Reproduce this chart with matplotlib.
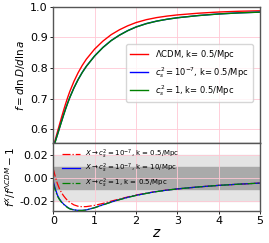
import matplotlib
matplotlib.use("Agg")
import matplotlib.pyplot as plt
from matplotlib.ticker import FormatStrFormatter

z = [0, 0.05, 0.1, 0.15, 0.2, 0.25, 0.3, 0.35, 0.4, 0.5, 0.6, 0.7, 0.8, 1.0,
     1.2, 1.4, 1.6, 1.8, 2.0, 2.25, 2.5, 2.75, 3.0, 3.5, 4.0, 4.5, 5.0]

# growth rate f = dlnD/dlna
f_lcdm = [0.542, 0.5665, 0.591, 0.6153, 0.639, 0.662, 0.684, 0.7045, 0.7235,
          0.7565, 0.7845, 0.8085, 0.829, 0.862, 0.888, 0.909, 0.925, 0.938,
          0.9485, 0.958, 0.9648, 0.9697, 0.9735, 0.979, 0.983, 0.9855, 0.987]
f_cs_small = [0.540, 0.561, 0.5825, 0.6043, 0.626, 0.6472, 0.6675, 0.6865, 0.7042,
              0.7355, 0.7624, 0.7857, 0.8059, 0.8397, 0.8673, 0.8899, 0.9075,
              0.9222, 0.9341, 0.9452, 0.9533, 0.9594, 0.9643, 0.9714, 0.9767,
              0.9803, 0.9827]
f_cs_one = [0.539, 0.5603, 0.5815, 0.6036, 0.6253, 0.6466, 0.667, 0.686, 0.7038,
            0.7352, 0.7621, 0.7854, 0.8056, 0.8394, 0.867, 0.8896, 0.9073,
            0.922, 0.9339, 0.945, 0.9532, 0.9593, 0.9642, 0.9713, 0.9766,
            0.9802, 0.9826]

# relative difference to LCDM
r_small_k05 = [0.008, 0.001, -0.005, -0.0095, -0.013, -0.0157, -0.018, -0.0199,
               -0.0215, -0.0237, -0.0249, -0.0253, -0.0252, -0.0241, -0.0224,
               -0.0204, -0.0185, -0.0167, -0.0150, -0.0133, -0.0118, -0.0106,
               -0.0096, -0.0079, -0.0065, -0.0054, -0.0045]
r_small_k10 = [-0.003, -0.0095, -0.015, -0.0185, -0.021, -0.023, -0.0245, -0.0259,
               -0.027, -0.0281, -0.0285, -0.0285, -0.0281, -0.0261, -0.0236,
               -0.0212, -0.0190, -0.0170, -0.0153, -0.0135, -0.0119, -0.0107,
               -0.0096, -0.0079, -0.0065, -0.0054, -0.0045]
r_one_k05 = [-0.005, -0.011, -0.016, -0.019, -0.0215, -0.0232, -0.0248, -0.0262,
             -0.0272, -0.0282, -0.0286, -0.0286, -0.0282, -0.0262, -0.0237,
             -0.0213, -0.0191, -0.0171, -0.0154, -0.0136, -0.012, -0.0107,
             -0.0096, -0.0079, -0.0065, -0.0054, -0.0045]

fig = plt.figure(figsize=(2.69, 2.43), dpi=100)
ax1 = fig.add_axes([0.198, 0.410, 0.769, 0.562])
ax2 = fig.add_axes([0.198, 0.132, 0.769, 0.278], sharex=ax1)

for ax in (ax1, ax2):
    ax.grid(True, color="#ffc8d4", linewidth=0.6)
    ax.set_axisbelow(True)
    for s in ax.spines.values():
        s.set_color("#555555")
        s.set_linewidth(1.0)
    ax.tick_params(labelsize=8, length=2.5, width=0.6, pad=1.5)

ax1.plot(z, f_lcdm, color="red", lw=1.0, label=r"$\Lambda$CDM, k= 0.5/Mpc")
ax1.plot(z, f_cs_small, color="blue", lw=1.0, label=r"$c_s^2=10^{-7}$, k= 0.5/Mpc")
ax1.plot(z, f_cs_one, color="green", lw=1.0, label=r"$c_s^2=1$, k= 0.5/Mpc")
ax1.set_xlim(0, 5)
ax1.set_ylim(0.554, 1.0)
ax1.set_yticks([0.6, 0.7, 0.8, 0.9, 1.0])
ax1.yaxis.set_major_formatter(FormatStrFormatter("%.1f"))
ax1.set_ylabel(r"$f=d\ln D/d\ln a$", fontsize=7.5, labelpad=2)
ax1.tick_params(labelbottom=False)
ax1.legend(loc="center right", fontsize=6, handlelength=2.2, borderpad=0.5,
           labelspacing=0.4, bbox_to_anchor=(0.985, 0.515))

ax2.axhspan(-0.02, 0.02, color="#e4e4e4", zorder=0)
ax2.axhspan(-0.01, 0.01, color="#aaaaaa", zorder=0)
ax2.plot(z, r_small_k05, color="red", lw=0.9, ls="-.",
         label=r"$X\rightarrow c_s^2=10^{-7}$, k = 0.5/Mpc")
ax2.plot(z, r_small_k10, color="blue", lw=0.9,
         label=r"$X\rightarrow c_s^2=10^{-7}$, k = 10/Mpc")
ax2.plot(z, r_one_k05, color="green", lw=0.9, ls="-.",
         label=r"$X\rightarrow c_s^2=1$, k = 0.5/Mpc")
ax2.set_ylim(-0.029, 0.0305)
ax2.set_yticks([-0.02, 0.0, 0.02])
ax2.yaxis.set_major_formatter(FormatStrFormatter("%.2f"))
ax2.set_xticks([0, 1, 2, 3, 4, 5])
ax2.set_xlabel(r"$z$", fontsize=10, labelpad=0)
ax2.set_ylabel(r"$f^X/f^{\Lambda CDM}-1$", fontsize=7.5, labelpad=1)
ax2.legend(loc="upper left", fontsize=5, frameon=False, handlelength=2.6,
           labelspacing=0.15, borderaxespad=0.2, bbox_to_anchor=(0.02, 1.0))

fig.savefig("out.png", dpi=100)
